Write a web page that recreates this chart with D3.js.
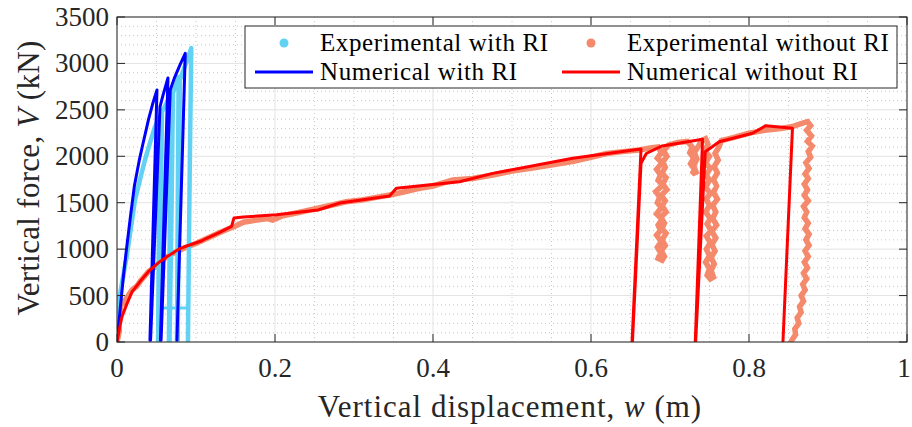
<!DOCTYPE html>
<html><head><meta charset="utf-8">
<script src="https://cdn.jsdelivr.net/npm/d3@7"></script>
<style>
html,body{margin:0;padding:0;background:#fff;}
svg{display:block;font-family:"Liberation Serif","DejaVu Serif",serif;}
</style></head>
<body>
<svg id="chart" width="912" height="427"></svg>
<script>
// ---------- data ----------
const xTicks = [0, 0.2, 0.4, 0.6, 0.8, 1];
const xTickLabels = ["0", "0.2", "0.4", "0.6", "0.8", "1"];
const yTicks = [0, 500, 1000, 1500, 2000, 2500, 3000, 3500];
const yTickLabels = ["0", "500", "1000", "1500", "2000", "2500", "3000", "3500"];
const seriesNames = ["Experimental with RI", "Experimental without RI", "Numerical with RI", "Numerical without RI"];

// Experimental with RI: [w (m), V (kN)]
const expWithRI = [
  [0,0],[0,130],[0.001,366],[0.006,620],[0.0126,937],[0.0228,1529],[0.029,1745],[0.0354,1960],
  [0.0417,2143],[0.048,2315],[0.0544,2434],[0.0556,2455],[0.054,1800],[0.053,1000],[0.052,0],
  [0.053,0],[0.055,1200],[0.0569,2477],[0.0628,2574],[0.0683,2660],[0.067,1500],[0.0657,0],
  [0.0665,0],[0.069,1400],[0.0708,2681],[0.0746,2768],[0.078,2854],[0.077,1600],[0.0759,0],
  [0.0768,0],[0.078,1400],[0.0796,2821],[0.086,2972],[0.091,3091],[0.094,3166],[0.092,1800],[0.0898,0]
];
const expWithRIHold = [[0.058,366],[0.090,366]];
const expWithRITick = [[-0.001,366],[0.004,366]];

// Experimental without RI
const expWithoutRI = [
  [0,0],[0.003,120],[0.001,260],[0.005,330],[0.003,450],[0.008,420],[0.012,470],[0.019,560],
  [0.025,600],[0.03,660],[0.04,760],[0.05,820],[0.06,900],[0.07,950],[0.08,990],[0.09,1030],
  [0.10,1060],[0.11,1100],[0.12,1140],[0.13,1180],[0.14,1215],[0.15,1250],[0.16,1290],[0.175,1310],
  [0.19,1330],[0.197,1314],[0.21,1360],[0.23,1395],[0.254,1440],[0.27,1470],[0.29,1510],[0.31,1530],
  [0.33,1560],[0.345,1583],[0.36,1610],[0.38,1650],[0.40,1680],[0.425,1744],[0.45,1760],[0.476,1798],
  [0.50,1840],[0.53,1880],[0.5765,1942],[0.60,1990],[0.62,2030],[0.64,2050],[0.661,2068],[0.675,2090],
  // unload loop 1
  [0.685,2100],[0.689,2040],[0.684,1980],[0.690,1930],[0.683,1860],[0.688,1800],[0.685,1740],[0.691,1690],
  [0.682,1620],[0.687,1560],[0.684,1500],[0.689,1450],[0.683,1380],[0.690,1320],[0.685,1260],[0.688,1200],
  [0.683,1150],[0.689,1080],[0.684,1020],[0.688,960],[0.685,900],[0.690,880],[0.693,920],[0.689,985],
  [0.694,1040],[0.690,1100],[0.695,1170],[0.690,1220],[0.693,1280],[0.688,1340],[0.695,1400],[0.690,1470],
  [0.694,1520],[0.689,1580],[0.696,1640],[0.691,1700],[0.695,1770],[0.690,1820],[0.694,1880],[0.691,1940],
  [0.696,2000],[0.692,2060],[0.698,2120],[0.71,2150],[0.722,2160],
  // small loop
  [0.728,2100],[0.725,2040],[0.730,1980],[0.726,1920],[0.731,1860],[0.728,1810],[0.733,1830],[0.730,1900],
  [0.734,1970],[0.731,2040],[0.736,2110],[0.74,2170],[0.745,2190],
  // unload loop 3
  [0.748,2130],[0.744,2060],[0.750,2000],[0.745,1930],[0.751,1870],[0.746,1800],[0.750,1740],[0.745,1670],
  [0.751,1600],[0.746,1540],[0.750,1470],[0.745,1400],[0.751,1330],[0.747,1270],[0.752,1200],[0.746,1140],
  [0.751,1070],[0.746,1000],[0.750,930],[0.745,860],[0.750,790],[0.747,720],[0.751,680],[0.755,700],
  [0.752,770],[0.756,840],[0.752,910],[0.757,980],[0.753,1050],[0.758,1120],[0.753,1190],[0.759,1260],
  [0.754,1330],[0.758,1400],[0.754,1470],[0.760,1540],[0.755,1610],[0.759,1680],[0.755,1750],[0.760,1820],
  [0.756,1890],[0.761,1960],[0.757,2030],[0.762,2100],[0.765,2170],
  [0.78,2200],[0.80,2250],[0.82,2280],[0.84,2300],[0.855,2320],[0.865,2350],[0.874,2373],[0.878,2330],
  // final unload
  [0.873,2280],[0.879,2220],[0.874,2160],[0.880,2110],[0.875,2050],[0.878,1990],[0.872,1930],[0.876,1870],
  [0.871,1810],[0.875,1760],[0.870,1700],[0.874,1640],[0.870,1580],[0.875,1520],[0.869,1460],[0.873,1400],
  [0.870,1340],[0.875,1280],[0.871,1220],[0.876,1160],[0.872,1100],[0.876,1040],[0.871,980],[0.875,920],
  [0.870,860],[0.874,800],[0.869,740],[0.873,680],[0.868,620],[0.871,560],[0.866,500],[0.869,440],
  [0.864,380],[0.866,320],[0.861,260],[0.863,200],[0.858,140],[0.859,80],[0.855,30],[0.853,0]
];

// Numerical with RI
const numWithRI = [
  [0,0],[0.004,350],[0.008,700],[0.012,1000],[0.017,1350],[0.022,1680],[0.028,1950],[0.033,2140],
  [0.040,2400],[0.045,2560],[0.0506,2714],[0.0417,20],[0.0425,20],[0.0544,2531],[0.058,2650],
  [0.0645,2843],[0.055,20],[0.0558,20],[0.0674,2714],[0.073,2850],[0.080,2990],[0.0864,3109],[0.0759,20]
];

// Numerical without RI
const numWithoutRI = [
  [0,0],[0.003,140],[0.0063,272],[0.012,400],[0.019,540],[0.03,660],[0.040,760],[0.055,870],
  [0.0628,915],[0.078,1000],[0.0838,1020],[0.1075,1090],[0.1134,1117],[0.13,1180],[0.145,1245],
  [0.148,1335],[0.16,1345],[0.2019,1370],[0.2545,1421],[0.282,1497],[0.345,1572],[0.3536,1655],
  [0.4336,1726],[0.4757,1816],[0.5769,1978],[0.6633,2078],[0.652,5],[0.6525,5],[0.6633,1924],
  [0.670,2030],[0.690,2111],[0.7412,2183],[0.732,5],[0.7325,5],[0.7446,2049],[0.7623,2157],
  [0.8045,2248],[0.8213,2330],[0.855,2301],[0.843,5]
];

// ---------- drawing ----------
const svg = d3.select("#chart");
const L = 117, R = 907, T = 17, B = 342;
const x = d3.scaleLinear().domain([0, 1]).range([L, R]);
const y = d3.scaleLinear().domain([0, 3500]).range([B, T]);

const colCyan = "#62d2f4", colOrange = "#f4896b", colBlue = "#0000ff", colRed = "#ff0000";

// minor grid
const xMinor = d3.range(0, 1.0001, 0.05).filter(v => Math.abs(v*5 - Math.round(v*5)) > 1e-6);
const yMinor = d3.range(0, 3501, 100).filter(v => v % 500 !== 0);
const g = svg.append("g");
g.selectAll(".xmin").data(xMinor).join("line")
  .attr("x1", d => x(d)).attr("x2", d => x(d)).attr("y1", T).attr("y2", B)
  .attr("stroke", "#c8c8c8").attr("stroke-width", 1).attr("stroke-dasharray", "1,3");
g.selectAll(".ymin").data(yMinor).join("line")
  .attr("y1", d => y(d)).attr("y2", d => y(d)).attr("x1", L).attr("x2", R)
  .attr("stroke", "#c8c8c8").attr("stroke-width", 1).attr("stroke-dasharray", "1,3");
// major grid
g.selectAll(".xmaj").data(xTicks).join("line")
  .attr("x1", d => x(d)).attr("x2", d => x(d)).attr("y1", T).attr("y2", B)
  .attr("stroke", "#e3e3e3").attr("stroke-width", 1);
g.selectAll(".ymaj").data(yTicks).join("line")
  .attr("y1", d => y(d)).attr("y2", d => y(d)).attr("x1", L).attr("x2", R)
  .attr("stroke", "#e3e3e3").attr("stroke-width", 1);

// data
svg.append("clipPath").attr("id", "clip").append("rect")
  .attr("x", L).attr("y", T - 2).attr("width", R - L).attr("height", B - T + 2);
const line = d3.line().x(d => x(d[0])).y(d => y(d[1]));
const plot = svg.append("g").attr("clip-path", "url(#clip)");
function path(data, color, w, join) {
  plot.append("path").attr("d", line(data)).attr("fill", "none")
    .attr("stroke", color).attr("stroke-width", w)
    .attr("stroke-linejoin", join || "round").attr("stroke-miterlimit", 3)
    .attr("stroke-linecap", "round");
}
path(expWithoutRI, colOrange, 5.5, "miter");
path(expWithRI, colCyan, 4.5);
path(expWithRIHold, colCyan, 3);
path(expWithRITick, colCyan, 3);
path(numWithRI, colBlue, 3);
path(numWithoutRI, colRed, 3);

// axes box
const axC = "#262626";
svg.append("rect").attr("x", L).attr("y", T).attr("width", R - L).attr("height", B - T)
  .attr("fill", "none").attr("stroke", axC).attr("stroke-width", 1);
const tl = 8;
svg.selectAll(".xt").data(xTicks).join("g").each(function(d) {
  d3.select(this).append("line").attr("x1", x(d)).attr("x2", x(d)).attr("y1", B).attr("y2", B - tl).attr("stroke", axC);
  d3.select(this).append("line").attr("x1", x(d)).attr("x2", x(d)).attr("y1", T).attr("y2", T + tl).attr("stroke", axC);
});
svg.selectAll(".yt").data(yTicks).join("g").each(function(d) {
  d3.select(this).append("line").attr("y1", y(d)).attr("y2", y(d)).attr("x1", L).attr("x2", L + tl).attr("stroke", axC);
  d3.select(this).append("line").attr("y1", y(d)).attr("y2", y(d)).attr("x1", R).attr("x2", R - tl).attr("stroke", axC);
});
// tick labels
svg.selectAll(".xl").data(xTicks).join("text")
  .attr("x", d => Math.min(x(d), 904)).attr("y", 377).attr("text-anchor", "middle")
  .attr("font-size", 27).attr("fill", "#262626").text((d, i) => xTickLabels[i]);
svg.selectAll(".yl").data(yTicks).join("text")
  .attr("x", 109).attr("y", d => y(d) + 9).attr("text-anchor", "end")
  .attr("font-size", 27).attr("fill", "#262626").text((d, i) => yTickLabels[i]);

// axis labels
const xl = svg.append("text").attr("x", 510).attr("y", 417).attr("text-anchor", "middle")
  .attr("font-size", 31).attr("letter-spacing", 1).attr("fill", "#262626");
xl.append("tspan").text("Vertical displacement, ");
xl.append("tspan").attr("font-style", "italic").text("w");
xl.append("tspan").text(" (m)");
const yl = svg.append("text").attr("transform", "translate(39,178) rotate(-90)").attr("text-anchor", "middle")
  .attr("font-size", 31).attr("letter-spacing", 0.3).attr("fill", "#262626");
yl.append("tspan").text("Vertical force, ");
yl.append("tspan").attr("font-style", "italic").text("V");
yl.append("tspan").text(" (kN)");

// legend
const lg = svg.append("g");
lg.append("rect").attr("x", 245).attr("y", 26).attr("width", 652).attr("height", 62)
  .attr("fill", "#fff").attr("stroke", "#262626").attr("stroke-width", 1);
const items = [
  {name: seriesNames[0], type: "dot", color: colCyan, x: 255, y: 43},
  {name: seriesNames[1], type: "dot", color: colOrange, x: 562, y: 43},
  {name: seriesNames[2], type: "line", color: colBlue, x: 255, y: 72},
  {name: seriesNames[3], type: "line", color: colRed, x: 562, y: 72}
];
items.forEach(it => {
  if (it.type === "dot") {
    lg.append("circle").attr("cx", it.x + 29).attr("cy", it.y).attr("r", 4.5).attr("fill", it.color);
  } else {
    lg.append("line").attr("x1", it.x).attr("x2", it.x + 58).attr("y1", it.y).attr("y2", it.y)
      .attr("stroke", it.color).attr("stroke-width", 3);
  }
  lg.append("text").attr("x", it.x + 65).attr("y", it.y + 8).attr("font-size", 25)
    .attr("letter-spacing", 0.6).attr("fill", "#000").text(it.name);
});
</script>
</body></html>
